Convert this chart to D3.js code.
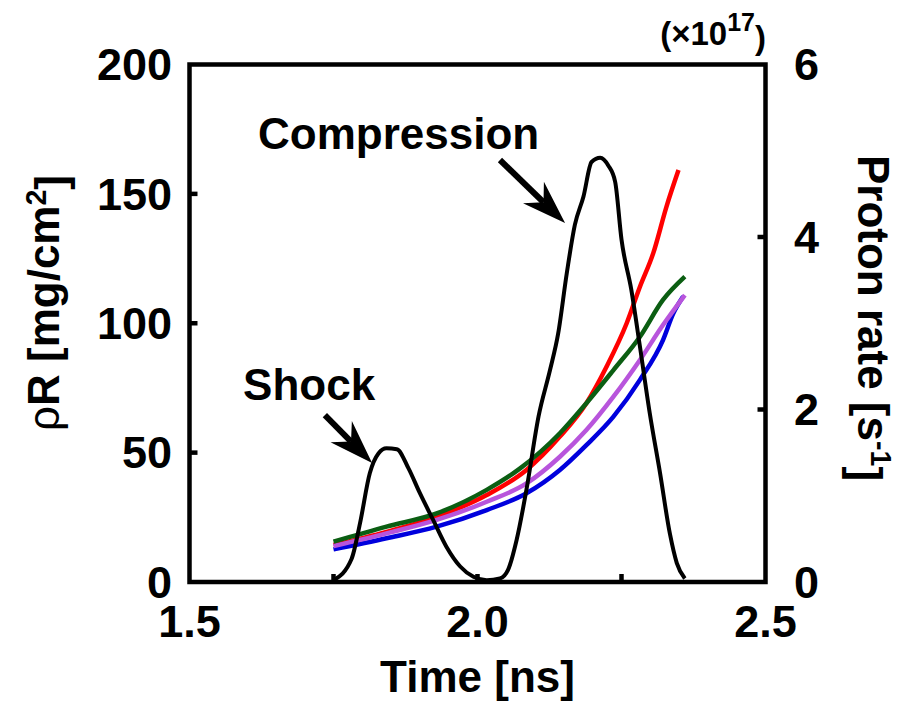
<!DOCTYPE html>
<html><head><meta charset="utf-8">
<script src="https://cdn.jsdelivr.net/npm/d3@7"></script>
<style>body{margin:0;background:#fff}svg{display:block}text{font-family:"Liberation Sans",Arial,sans-serif;font-weight:bold;fill:#000}</style>
</head><body><svg id="c" width="903" height="706"></svg>
<script>
// ---- data ----
const xTicks = [1.5, 2.0, 2.5];
const xMinorTicks = [1.75, 2.0, 2.25];
const yLeftTicks = [0, 50, 100, 150, 200];
const yRightTicks = [0, 2, 4, 6];

const redTime   = [1.75,1.842,1.929,2.016,2.085,2.143,2.189,2.224,2.259,2.282,2.305,2.328,2.349];
const redRhoR   = [14.3,19.4,25.2,33.6,43.3,56.2,69.1,83.2,100.0,114.1,127.0,145.0,159.2];
const greenTime = [1.75,1.842,1.929,2.016,2.074,2.143,2.189,2.236,2.282,2.322,2.360];
const greenRhoR = [15.6,21.4,26.5,35.6,43.9,57.5,69.1,81.9,94.8,109.0,118.0];
const purpleTime= [1.75,1.842,1.929,2.016,2.085,2.143,2.189,2.236,2.282,2.322,2.360];
const purpleRhoR= [13.9,18.8,24.0,31.0,38.1,48.4,58.7,71.6,85.8,99.3,110.9];
const blueTime  = [1.75,1.842,1.929,2.016,2.085,2.143,2.189,2.236,2.282,2.322,2.340,2.357];
const blueRhoR  = [12.6,16.9,21.4,27.8,34.3,43.3,52.9,63.9,78.1,93.5,103.8,110.3];

const protonTime = [1.75,1.7815,1.796,1.813,1.828,1.842,1.860,1.880,1.900,1.923,1.946,1.970,1.993,2.016,2.039,2.053,2.068,2.085,2.106,2.126,2.140,2.155,2.169,2.184,2.198,2.213,2.227,2.239,2.250,2.267,2.282,2.299,2.317,2.334,2.346,2.360];
const protonRate = [0.02,0.27,0.68,1.26,1.49,1.55,1.54,1.32,1.03,0.72,0.41,0.18,0.06,0.02,0.04,0.14,0.49,1.07,1.92,2.46,2.88,3.58,4.14,4.47,4.87,4.92,4.83,4.64,3.97,3.39,2.73,1.96,1.26,0.56,0.22,0.04];

// annotations: [label, textX, textY, tailX, tailY, tipX, tipY] in (time, rhoR)
const annotations = [
  ["Compression", 1.619, 167.3, 2.039, 163.1, 2.152, 138.7],
  ["Shock", 1.593, 70.3, 1.735, 64.5, 1.817, 46.0]
];

// ---- layout ----
const L = 189.5, R = 765.5, T = 64.5, B = 582;
const svg = d3.select("#c");
const x = d3.scaleLinear().domain([1.5, 2.5]).range([L, R]);
const yL = d3.scaleLinear().domain([0, 200]).range([B, T]);
const yR = d3.scaleLinear().domain([0, 6]).range([B, T]);
const FS = 44, TFS = 45;

const series = [
  {t: redTime, v: redRhoR, c: "#ff0000"},
  {t: blueTime, v: blueRhoR, c: "#0000dd"},
  {t: purpleTime, v: purpleRhoR, c: "#b855dc"},
  {t: greenTime, v: greenRhoR, c: "#0b5e12"}
];
const lineL = d3.line().x(d => x(d[0])).y(d => yL(d[1])).curve(d3.curveMonotoneX);
series.forEach(s => {
  svg.append("path").attr("d", lineL(s.t.map((t, i) => [t, s.v[i]])))
    .attr("fill", "none").attr("stroke", s.c).attr("stroke-width", 4.5).attr("stroke-linejoin", "round");
});
const lineR = d3.line().x(d => x(d[0])).y(d => yR(d[1])).curve(d3.curveMonotoneX);
svg.append("path").attr("d", lineR(protonTime.map((t, i) => [t, protonRate[i]])))
  .attr("fill", "none").attr("stroke", "#000").attr("stroke-width", 4).attr("stroke-linejoin", "round");

// ticks (inward)
const tk = svg.append("g").attr("stroke", "#000").attr("stroke-width", 4.5);
xMinorTicks.forEach(v => tk.append("line").attr("x1", x(v)).attr("x2", x(v)).attr("y1", B).attr("y2", B - 8));
yLeftTicks.slice(1, -1).forEach(v => tk.append("line").attr("x1", L).attr("x2", L + 8).attr("y1", yL(v)).attr("y2", yL(v)));
yRightTicks.slice(1, -1).forEach(v => tk.append("line").attr("x1", R).attr("x2", R - 8).attr("y1", yR(v)).attr("y2", yR(v)));

// frame
svg.append("rect").attr("x", L).attr("y", T).attr("width", R - L).attr("height", B - T)
  .attr("fill", "none").attr("stroke", "#000").attr("stroke-width", 4.5);

// tick labels
xTicks.forEach(v => svg.append("text").attr("x", x(v)).attr("y", 637).attr("text-anchor", "middle")
  .attr("font-size", TFS).text(d3.format(".1f")(v)));
yLeftTicks.forEach(v => svg.append("text").attr("x", 172).attr("y", yL(v)).attr("dy", "0.35em")
  .attr("text-anchor", "end").attr("font-size", TFS).text(v));
yRightTicks.forEach(v => svg.append("text").attr("x", 794).attr("y", yR(v)).attr("dy", "0.35em")
  .attr("font-size", TFS).text(v));

// axis titles
svg.append("text").attr("x", (L + R) / 2).attr("y", 692).attr("text-anchor", "middle").attr("font-size", FS).text("Time [ns]");
const lt = svg.append("text").attr("transform", "translate(59,303) rotate(-90)").attr("text-anchor", "middle").attr("font-size", FS);
lt.append("tspan").attr("font-weight", "normal").text("ρ");
lt.append("tspan").text("R [mg/cm");
lt.append("tspan").attr("dy", "-0.45em").attr("font-size", FS * 0.65).text("2");
lt.append("tspan").attr("dy", "0.45em").text("]");
const rt = svg.append("text").attr("transform", "translate(858,318) rotate(90)").attr("text-anchor", "middle").attr("font-size", FS);
rt.append("tspan").text("Proton rate [s");
rt.append("tspan").attr("dy", "-0.45em").attr("font-size", FS * 0.65).text("-1");
rt.append("tspan").attr("dy", "0.45em").text("]");

const ex = svg.append("text").attr("x", 766).attr("y", 45).attr("text-anchor", "end").attr("font-size", 33);
ex.append("tspan").text("(×10");
ex.append("tspan").attr("dy", "-0.55em").attr("font-size", 25).text("17");
ex.append("tspan").attr("dy", "0.55em").text(")");

// annotations
annotations.forEach(a => {
  const [lab, tx, ty, x0, y0, x1, y1] = a;
  svg.append("text").attr("x", x(tx)).attr("y", yL(ty)).attr("font-size", FS).text(lab);
  const px0 = x(x0), py0 = yL(y0), px1 = x(x1), py1 = yL(y1);
  const dx = px1 - px0, dy = py1 - py0, len = Math.hypot(dx, dy), ux = dx / len, uy = dy / len;
  const hl = 44, hw = 15, nd = 30;
  const bx = px1 - ux * hl, by = py1 - uy * hl;
  const nx = px1 - ux * nd, ny = py1 - uy * nd;
  svg.append("line").attr("x1", px0).attr("y1", py0).attr("x2", nx).attr("y2", ny)
    .attr("stroke", "#000").attr("stroke-width", 6);
  svg.append("path").attr("d", `M${px1},${py1}L${bx - uy * hw},${by + ux * hw}L${nx},${ny}L${bx + uy * hw},${by - ux * hw}Z`)
    .attr("fill", "#000");
});
</script></body></html>
